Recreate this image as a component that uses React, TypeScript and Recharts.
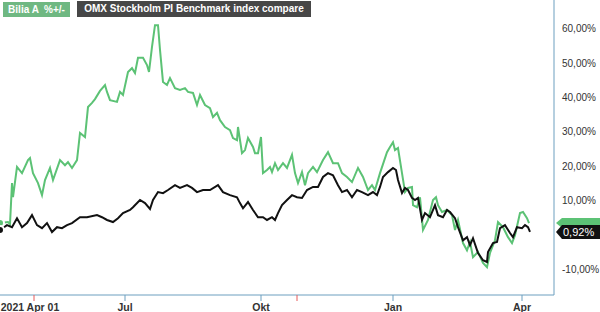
import React from 'react';
import { LineChart, Line, XAxis, YAxis, ReferenceLine } from 'recharts';

// trading-session index (0 = chart start) and % change since start
const biliaT = [0, 4, 5, 6, 6.5, 8.5, 11, 14, 15, 16.5, 19, 21, 22.5, 25, 26.5, 30, 32.5, 34, 36, 38.5, 40, 42.5, 44, 46, 47.5, 50, 52.5, 53.5, 55, 58.5, 60, 61.5, 64, 66, 67.5, 69, 71.5, 73.5, 74.5, 76, 77.5, 79, 80, 81.5, 83.5, 85, 87.5, 90, 92.5, 94, 96.5, 98.5, 100, 102.5, 105, 106.5, 108.5, 110, 112.5, 115, 116.5, 118.5, 119, 121, 122.5, 124, 126.5, 127.5, 129, 130.5, 131.5, 133.5, 135, 136, 137.5, 139, 141.5, 143.5, 146, 147.5, 149, 151, 152.5, 154, 156.5, 158.5, 161.5, 164, 166.5, 169, 171, 173.5, 176, 179, 181.5, 184, 186, 187.5, 190, 193.5, 195, 196.5, 197.5, 199, 201, 202.5, 204, 206, 206.5, 208.5, 210, 211.5, 214, 216.5, 218, 219, 221, 223.5, 226, 227.5, 229, 231.5, 233.5, 235, 236.5, 239, 241.5, 243.5, 245, 247.5, 249, 251.5, 254, 256, 257.5, 260, 261.5, 263.5, 264.5];
const biliaV = [3.5, 3.8, 3.2, 15.1, 11.0, 19.8, 18.0, 21.8, 22.4, 18.0, 15.1, 11.6, 16.0, 19.5, 16.0, 21.8, 20.3, 21.2, 19.5, 21.8, 29.7, 28.5, 37.2, 38.4, 39.5, 41.9, 43.6, 41.6, 39.2, 38.7, 41.6, 40.7, 47.4, 48.5, 47.1, 51.5, 51.5, 49.4, 47.4, 54.7, 61.0, 61.0, 53.8, 44.5, 43.6, 45.6, 42.7, 42.2, 42.7, 41.6, 41.3, 37.8, 40.7, 37.8, 36.9, 34.3, 35.5, 33.4, 31.4, 30.5, 28.2, 27.6, 31.4, 23.8, 24.7, 28.2, 25.6, 23.8, 23.8, 28.5, 18.0, 18.9, 19.8, 18.3, 20.9, 18.9, 20.9, 19.5, 23.3, 18.0, 15.1, 18.3, 14.5, 18.0, 19.8, 18.3, 21.8, 24.1, 20.9, 20.9, 18.0, 16.9, 15.4, 19.5, 16.9, 13.1, 14.5, 13.1, 18.0, 24.1, 25.6, 27.0, 24.7, 25.3, 18.0, 12.5, 13.7, 14.0, 8.7, 8.1, 11.0, 1.5, 4.4, 10.2, 11.0, 8.7, 6.7, 7.3, 5.8, 1.5, 4.4, -2.3, -4.4, -2.0, -6.4, -4.9, -8.1, -9.3, -5.2, -1.5, 3.8, 2.3, -0.6, -2.3, 0.0, 6.4, 6.7, 4.9, 3.49];

const omxT = [0, 3.5, 6, 8.5, 11, 13.5, 16, 18.5, 21, 23.5, 26, 28.5, 31, 33.5, 36, 40, 43.5, 48.5, 51, 53.5, 56.5, 59, 61.5, 65, 66.5, 70, 72.5, 75, 76.5, 79, 81.5, 84, 87.5, 90, 93.5, 96, 98.5, 101.5, 105, 109, 111.5, 115, 118.5, 120, 121.5, 124, 126.5, 129, 131.5, 133.5, 136, 137.5, 139, 141, 143.5, 146, 148.5, 151, 153.5, 156.5, 159, 161.5, 164, 166.5, 169, 171, 173.5, 176, 178.5, 181, 184, 186.5, 188.5, 190, 191.5, 194, 196.5, 198, 199, 201, 202.5, 204, 206, 207.5, 209, 211, 212.5, 215, 217.5, 219, 221.5, 223.5, 225, 227.5, 229, 231.5, 233.5, 235, 236.5, 239, 241.5, 243.5, 244, 246.5, 248.5, 250, 252.5, 255, 256.5, 258.5, 261, 262.5, 264, 265];
const omxV = [1.5, 2.9, 2.3, 4.9, 2.3, 3.5, 5.8, 2.9, 2.0, 3.5, 0.9, 2.3, 2.0, 2.9, 3.5, 5.2, 5.2, 5.8, 5.2, 4.4, 3.8, 4.9, 6.4, 7.3, 8.1, 10.2, 9.3, 7.6, 10.2, 12.5, 12.2, 13.1, 14.5, 13.7, 14.5, 13.7, 12.5, 13.1, 13.1, 14.5, 12.5, 11.6, 11.0, 9.3, 7.8, 9.6, 7.3, 5.2, 5.2, 4.4, 5.2, 4.4, 6.4, 8.7, 10.2, 11.6, 11.0, 10.8, 13.1, 14.0, 14.0, 16.9, 18.0, 17.4, 14.5, 12.5, 13.1, 11.0, 13.1, 12.5, 11.6, 12.5, 11.6, 14.0, 16.9, 18.3, 19.5, 18.9, 16.0, 12.2, 13.7, 13.1, 10.8, 10.2, 10.8, 4.4, 6.4, 5.2, 8.7, 5.8, 5.2, 7.3, 6.7, 4.9, 2.3, -1.5, -0.6, -2.9, -0.9, -5.2, -7.3, -7.8, -4.9, -2.3, -2.0, 2.0, 2.9, 0.6, -0.6, 2.3, 2.0, 2.9, 2.3, 0.92];

const xTicks = [17, 62.5, 130.5, 148.5, 196.5, 261];
const xTickLabels = ['2021 Apr 01', 'Jul', 'Okt', '', 'Jan', 'Apr'];
const redTicks = [17, 148.5];
const yTicks = [-10, 10, 20, 30, 40, 50, 60];

const biliaData = biliaT.map((t, i) => ({ t, v: biliaV[i] }));
const omxData = omxT.map((t, i) => ({ t, v: omxV[i] }));

const GREEN = '#5cc275';
const BLACK = '#111111';
const AXIS = '#6c9fbf';
const font = '"Liberation Sans", Arial, sans-serif';

const fmt = (v: number) => v.toFixed(2).replace('.', ',') + '%';

const XTick = (props: any) => {
  const { x, y, payload, index } = props;
  const red = redTicks.includes(payload.value);
  const label = xTickLabels[index];
  return (
    <g>
      <line x1={x} x2={x} y1={y} y2={y + 6} stroke={red ? '#e85a5a' : AXIS} strokeWidth={1} />
      {label && (
        <text x={index === 0 ? x - 4 : x} y={y + 16} textAnchor="middle" fontFamily={font}
          fontWeight="bold" fontSize={10.5} fill="#333">
          {label}
        </text>
      )}
    </g>
  );
};

const tag = (value: number, fill: string, h: number, showText: boolean) => (props: any) => {
  const { viewBox } = props;
  const x0 = viewBox.x + viewBox.width + 2;
  const cy = viewBox.y;
  const x1 = 600;
  return (
    <g>
      <path d={`M${x0},${cy} L${x0 + 6},${cy - h / 2} L${x1},${cy - h / 2} L${x1},${cy + h / 2} L${x0 + 6},${cy + h / 2} Z`}
        fill={fill} />
      {showText && (
        <text x={x0 + 7} y={cy + 4} fontFamily={font} fontSize={11} fill="#fff">{fmt(value)}</text>
      )}
    </g>
  );
};

export default function App() {
  const lastBilia = biliaV[biliaV.length - 1];
  const lastOmx = omxV[omxV.length - 1];
  return (
    <div style={{ position: 'relative', width: 600, height: 312, background: '#fff' }}>
      <style>{'body{margin:0}'}</style>
      <LineChart width={600} height={312} margin={{ top: 0, right: 0, left: 0, bottom: 0 }}>
        <XAxis type="number" dataKey="t" domain={[0, 277]} ticks={xTicks} interval={0}
          allowDuplicatedCategory={false} height={17} stroke={AXIS} tickLine={false}
          tickSize={0} tickMargin={0} tick={<XTick />} />
        <YAxis orientation="right" width={46} domain={[-17.4, 68.3]} ticks={yTicks} interval={0}
          stroke={AXIS} tickLine={false} tickSize={0} tickMargin={8}
          tickFormatter={fmt} tick={{ fill: '#333', fontSize: 10, fontFamily: font }} />
        <Line data={biliaData} dataKey="v" type="linear" stroke={GREEN} strokeWidth={2}
          dot={false} isAnimationActive={false} />
        <Line data={omxData} dataKey="v" type="linear" stroke={BLACK} strokeWidth={2}
          dot={false} isAnimationActive={false} />
        <ReferenceLine y={lastBilia} stroke="none" ifOverflow="visible"
          label={tag(lastBilia, GREEN, 10, false)} />
        <ReferenceLine y={lastOmx} stroke="none" ifOverflow="visible"
          label={tag(lastOmx, BLACK, 14, true)} />
      </LineChart>
      <div style={{ position: 'absolute', left: 3, top: 2, width: 67, height: 15, background: '#6fb882',
        color: '#fff', fontFamily: font, fontWeight: 'bold', fontSize: 10, lineHeight: '15px',
        whiteSpace: 'pre', textAlign: 'center' }}>
        {'Bilia A  %+/-'}
      </div>
      <div style={{ position: 'absolute', left: 77, top: 1, width: 234, height: 16, background: '#474747',
        color: '#fff', fontFamily: font, fontWeight: 'bold', fontSize: 10, lineHeight: '16px',
        whiteSpace: 'nowrap', textAlign: 'center' }}>
        OMX Stockholm PI Benchmark index compare
      </div>
    </div>
  );
}
